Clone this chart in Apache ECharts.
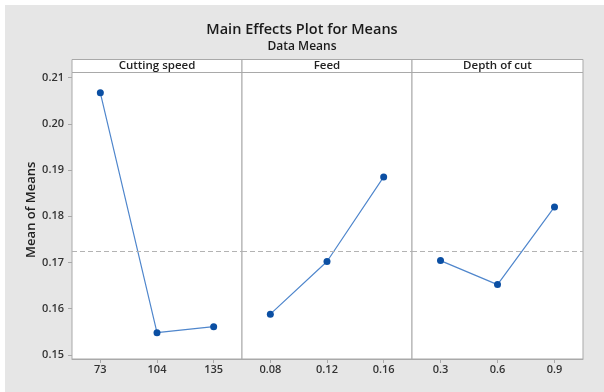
<!DOCTYPE html>
<html>
<head>
<meta charset="utf-8">
<script src="https://cdn.jsdelivr.net/npm/echarts@6/dist/echarts.min.js"></script>
<style>
html,body{margin:0;padding:0;background:#fff;}
#c{width:604px;height:392px;}
</style>
</head>
<body>
<div id="c"></div>
<script>
var panelTitles = ['Cutting speed', 'Feed', 'Depth of cut'];
var speedLevels = ['73', '104', '135'];
var feedLevels = ['0.08', '0.12', '0.16'];
var depthLevels = ['0.3', '0.6', '0.9'];
var speedMeans = [0.2067, 0.1548, 0.1561];
var feedMeans = [0.1588, 0.1702, 0.1885];
var depthMeans = [0.1704, 0.1652, 0.1820];
var grandMean = 0.1725;
var yTicks = [0.15, 0.16, 0.17, 0.18, 0.19, 0.20, 0.21];

var levels = [speedLevels, feedLevels, depthLevels];
var means = [speedMeans, feedMeans, depthMeans];

var FONT = '"Open Sans", "Noto Sans", sans-serif';
var yMin = 0.1491, yMax = 0.2111;
var gLeft = [72, 242, 412], gWidth = [170, 170, 171], gTop = 72.5, gHeight = 286.5;
var stripH = 13;

var grids = [], xAxes = [], yAxes = [], series = [], graphics = [];

graphics.push({
  type: 'rect', shape: {x: 5, y: 5, width: 599, height: 387},
  style: {fill: '#e6e6e6'}, z: -10, silent: true
});

for (var i = 0; i < 3; i++) {
  grids.push({
    left: gLeft[i], top: gTop, width: gWidth[i], height: gHeight,
    show: true, backgroundColor: '#ffffff', borderColor: '#a9a9a9', borderWidth: 1
  });
  xAxes.push({
    type: 'category', gridIndex: i, data: levels[i], boundaryGap: true,
    axisLine: {show: true, lineStyle: {color: '#a9a9a9', width: 1}},
    axisTick: {show: true, alignWithLabel: true, length: 4, lineStyle: {color: '#a9a9a9'}},
    axisLabel: {color: '#333', fontFamily: FONT, fontSize: 11, fontWeight: 600, margin: 5},
    splitLine: {show: false}
  });
  yAxes.push({
    type: 'value', gridIndex: i, min: yMin, max: yMax,
    show: i === 0,
    name: i === 0 ? 'Mean of Means' : '',
    nameLocation: 'middle', nameGap: 32,
    nameTextStyle: {color: '#222', fontFamily: FONT, fontSize: 13, fontWeight: 600, padding: [0, 0, 0, 12]},
    axisLine: {show: false},
    axisTick: {show: true, length: 4, customValues: yTicks, lineStyle: {color: '#a9a9a9'}},
    axisLabel: {
      show: true, customValues: yTicks, margin: 8,
      color: '#333', fontFamily: FONT, fontSize: 11, fontWeight: 600,
      formatter: function (v) { return v.toFixed(2); }
    },
    splitLine: {show: false}
  });
  series.push({
    type: 'line', xAxisIndex: i, yAxisIndex: i, data: means[i],
    symbol: 'circle', symbolSize: 7,
    itemStyle: {color: '#0b4fa3'},
    lineStyle: {color: '#4f86cc', width: 1.2},
    silent: true, animation: false,
    markLine: {
      silent: true, symbol: 'none', animation: false, precision: 6,
      label: {show: false},
      lineStyle: {color: '#b3b3b3', type: [5, 3], width: 1},
      data: [{yAxis: grandMean}]
    }
  });
  graphics.push({
    type: 'rect',
    shape: {x: gLeft[i], y: gTop - stripH, width: gWidth[i], height: stripH},
    style: {fill: '#ffffff', stroke: '#a9a9a9', lineWidth: 1},
    silent: true, z: 5
  });
  graphics.push({
    type: 'text',
    x: gLeft[i] + gWidth[i] / 2, y: gTop - stripH / 2,
    style: {
      text: panelTitles[i], align: 'center', verticalAlign: 'middle',
      fill: '#222', font: '600 11.5px ' + FONT
    },
    silent: true, z: 6
  });
}

var chart = echarts.init(document.getElementById('c'), null, {renderer: 'canvas'});
chart.setOption({
  backgroundColor: '#ffffff',
  animation: false,
  title: [
    {text: 'Main Effects Plot for Means', left: 'center', top: 17,
     textStyle: {color: '#1a1a1a', fontFamily: FONT, fontSize: 14.5, fontWeight: 600}},
    {text: 'Data Means', left: 'center', top: 36,
     textStyle: {color: '#1a1a1a', fontFamily: FONT, fontSize: 12, fontWeight: 600}}
  ],
  grid: grids,
  xAxis: xAxes,
  yAxis: yAxes,
  series: series,
  graphic: graphics
});
</script>
</body>
</html>
